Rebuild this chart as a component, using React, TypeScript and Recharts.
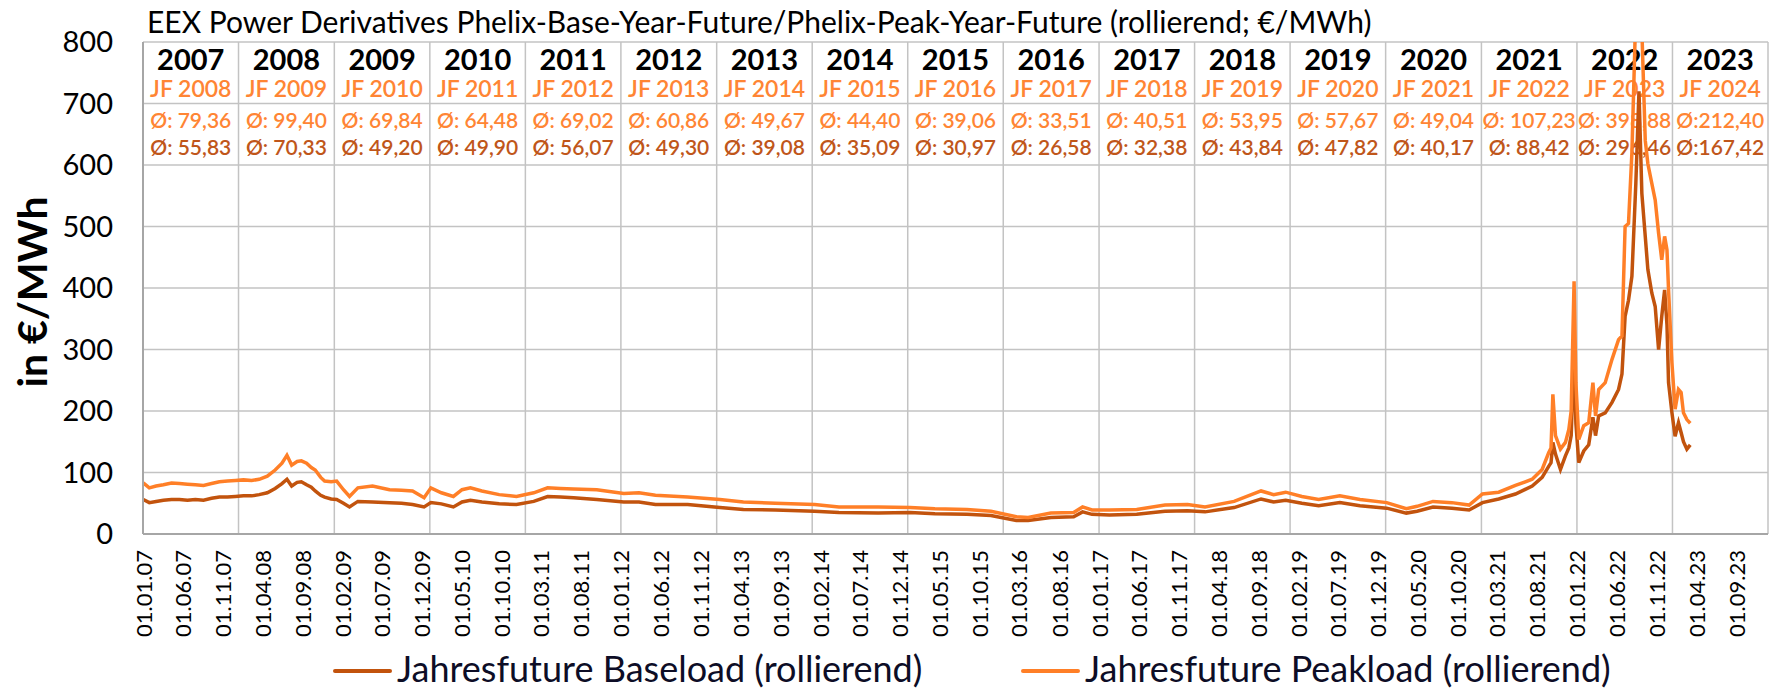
import React from 'react';
import {
  LineChart,
  Line,
  XAxis,
  YAxis,
  CartesianGrid,
  ReferenceLine,
  ReferenceArea,
} from 'recharts';

const FONT = "Lato, 'DejaVu Sans', sans-serif";
const BASE_COLOR = '#C2530D';
const PEAK_COLOR = '#FF7F27';
const GRID = '#c3c3c3';

// rolling year futures (€/MWh)
const dates = [
  '2007-01-02', '2007-01-25', '2007-02-20', '2007-03-20', '2007-04-20', '2007-05-20', '2007-06-20',
  '2007-07-20', '2007-08-20', '2007-09-20', '2007-10-20', '2007-11-20', '2007-12-20',
  '2008-01-20', '2008-02-20', '2008-03-20', '2008-04-20', '2008-05-20', '2008-06-15', '2008-07-04',
  '2008-07-22', '2008-08-12', '2008-08-28', '2008-09-17', '2008-10-05', '2008-10-20', '2008-11-10',
  '2008-11-25', '2008-12-20',
  '2009-01-10', '2009-02-05', '2009-02-28', '2009-04-01', '2009-05-27', '2009-07-31', '2009-09-15',
  '2009-10-27', '2009-12-10',
  '2010-01-05', '2010-02-14', '2010-04-01', '2010-05-04', '2010-06-05', '2010-07-19', '2010-09-23',
  '2010-11-28',
  '2011-02-02', '2011-03-27', '2011-05-15', '2011-07-04', '2011-10-01',
  '2012-01-12', '2012-03-10', '2012-05-12', '2012-09-12',
  '2013-01-13', '2013-04-13', '2013-08-13',
  '2014-01-10', '2014-04-13', '2014-09-10',
  '2015-01-10', '2015-04-15', '2015-08-15', '2015-11-15',
  '2016-02-20', '2016-04-05', '2016-07-01', '2016-09-26', '2016-10-30', '2016-12-05',
  '2017-02-10', '2017-05-25', '2017-09-10', '2017-12-05',
  '2018-02-10', '2018-06-01', '2018-09-12', '2018-10-30', '2018-12-15',
  '2019-02-15', '2019-04-20', '2019-07-10', '2019-09-25',
  '2020-01-05', '2020-03-20', '2020-04-30', '2020-06-30', '2020-09-10', '2020-11-15',
  '2021-01-05', '2021-03-08', '2021-05-11', '2021-07-14', '2021-08-21', '2021-09-15', '2021-09-24',
  '2021-10-01', '2021-10-11', '2021-10-30', '2021-11-18', '2021-12-01', '2021-12-10', '2021-12-21',
  '2021-12-28',
  '2022-01-08', '2022-01-27', '2022-02-15', '2022-03-03', '2022-03-13', '2022-03-25', '2022-04-19',
  '2022-05-15', '2022-06-09', '2022-06-22', '2022-07-04', '2022-07-17', '2022-07-30', '2022-08-14',
  '2022-08-26', '2022-09-06', '2022-09-19', '2022-09-29', '2022-10-14', '2022-10-27', '2022-11-09',
  '2022-11-21', '2022-12-02', '2022-12-11', '2022-12-17', '2022-12-30',
  '2023-01-11', '2023-01-24', '2023-02-03', '2023-02-12', '2023-02-25', '2023-03-10',
];

const baseload = [
  56, 51, 53, 55, 56, 56, 55, 56, 55, 58, 60, 60, 61,
  62, 62, 64, 67, 74, 82, 89, 78, 84, 85, 80, 76, 70, 63, 60, 57,
  56, 50, 44, 53, 52, 51, 50, 48, 44,
  51, 49, 44, 52, 55, 52, 49, 48,
  53, 61, 60, 59, 56,
  52, 52, 48, 48,
  43, 40, 39,
  37, 35, 34,
  35, 33, 32, 30,
  22, 22, 27, 28, 36, 32,
  31, 32, 37, 38,
  36, 43, 57, 52, 55,
  50, 46, 51, 46,
  42, 34, 37, 44, 42, 39,
  51, 57, 65, 78, 92, 110, 116, 149, 130, 105, 127, 140, 160, 300, 180,
  116, 135, 145, 190, 160, 192, 197, 214, 235, 260, 354, 380, 419, 570, 720, 554, 484, 430, 392,
  370, 300, 354, 397, 340, 246, 197,
  159, 181, 165, 150, 138, 145,
];

const peakload = [
  83, 75, 78, 80, 83, 82, 81, 80, 79, 82, 85, 86, 87,
  88, 87, 89, 94, 104, 115, 128, 112, 118, 119, 115, 108, 104, 92, 86, 85,
  86, 72, 61, 75, 78, 72, 71, 70, 59,
  75, 67, 61, 72, 75, 70, 64, 61,
  67, 75, 74, 73, 72,
  66, 67, 63, 60,
  56, 52, 50,
  48, 44, 44,
  43, 41, 40, 37,
  28, 27, 34, 35, 44, 39,
  39, 40, 47, 48,
  44, 53, 70, 64, 68,
  61, 56, 62, 56,
  51, 41, 45, 53, 51, 47,
  65, 68, 79, 89, 105, 132, 140, 227, 160, 138, 149, 170, 200, 411, 246,
  154, 176, 181, 246, 192, 235, 246, 284, 316, 322, 500, 505, 620, 850, 1000, 820, 640, 602, 570,
  543, 489, 446, 484, 462, 397, 278,
  203, 235, 230, 197, 186, 180,
];

const tickLabels = [
  '01.01.07', '01.06.07', '01.11.07', '01.04.08', '01.09.08', '01.02.09', '01.07.09', '01.12.09',
  '01.05.10', '01.10.10', '01.03.11', '01.08.11', '01.01.12', '01.06.12', '01.11.12', '01.04.13',
  '01.09.13', '01.02.14', '01.07.14', '01.12.14', '01.05.15', '01.10.15', '01.03.16', '01.08.16',
  '01.01.17', '01.06.17', '01.11.17', '01.04.18', '01.09.18', '01.02.19', '01.07.19', '01.12.19',
  '01.05.20', '01.10.20', '01.03.21', '01.08.21', '01.01.22', '01.06.22', '01.11.22', '01.04.23',
  '01.09.23',
];

const yTicks = [0, 100, 200, 300, 400, 500, 600, 700, 800];

const tableYears = [
  '2007', '2008', '2009', '2010', '2011', '2012', '2013', '2014', '2015',
  '2016', '2017', '2018', '2019', '2020', '2021', '2022', '2023',
];
const tableContracts = [
  'JF 2008', 'JF 2009', 'JF 2010', 'JF 2011', 'JF 2012', 'JF 2013', 'JF 2014', 'JF 2015', 'JF 2016',
  'JF 2017', 'JF 2018', 'JF 2019', 'JF 2020', 'JF 2021', 'JF 2022', 'JF 2023', 'JF 2024',
];
const avgPeak = [
  'Ø: 79,36', 'Ø: 99,40', 'Ø: 69,84', 'Ø: 64,48', 'Ø: 69,02', 'Ø: 60,86', 'Ø: 49,67', 'Ø: 44,40',
  'Ø: 39,06', 'Ø: 33,51', 'Ø: 40,51', 'Ø: 53,95', 'Ø: 57,67', 'Ø: 49,04', 'Ø: 107,23', 'Ø: 398,88',
  'Ø:212,40',
];
const avgBase = [
  'Ø: 55,83', 'Ø: 70,33', 'Ø: 49,20', 'Ø: 49,90', 'Ø: 56,07', 'Ø: 49,30', 'Ø: 39,08', 'Ø: 35,09',
  'Ø: 30,97', 'Ø: 26,58', 'Ø: 32,38', 'Ø: 43,84', 'Ø: 47,82', 'Ø: 40,17', 'Ø: 88,42', 'Ø: 296,46',
  'Ø:167,42',
];

const legendItems = [
  { name: 'Jahresfuture Baseload (rollierend)', color: BASE_COLOR },
  { name: 'Jahresfuture Peakload (rollierend)', color: PEAK_COLOR },
];

const isoTime = (s: string) => {
  const [y, m, d] = s.split('-').map(Number);
  return Date.UTC(y, m - 1, d);
};
const labelTime = (s: string) => {
  const [d, m, y] = s.split('.').map(Number);
  return Date.UTC(2000 + y, m - 1, d);
};
const yearStart = (y: number) => Date.UTC(y, 0, 1);

const data = dates.map((d, i) => ({
  t: isoTime(d),
  base: baseload[i],
  peak: peakload[i],
}));

const tickTimes = tickLabels.map(labelTime);
const labelByTime = new Map(tickTimes.map((t, i) => [t, tickLabels[i]]));
const firstYear = Number(tableYears[0]);
const lastYear = Number(tableYears[tableYears.length - 1]) + 1;

function XTick({ x, y, payload }: any) {
  return (
    <text
      x={x}
      y={y}
      transform={`rotate(-90 ${x} ${y})`}
      textAnchor="end"
      dominantBaseline="central"
      fontSize={22}
      fontFamily={FONT}
      fill="#000"
    >
      {labelByTime.get(payload.value)}
    </text>
  );
}

function TableCell(props: any) {
  const vb = props.viewBox || props;
  const { x, y, width, height } = vb;
  const col = props.col;
  const cx = x + width / 2;
  const row = height / 2;
  return (
    <g fontFamily={FONT} textAnchor="middle" dominantBaseline="central">
      <text x={cx} y={y + row * 0.27} fontSize={29} fontWeight={700} fill="#000">
        {tableYears[col]}
      </text>
      <text x={cx} y={y + row * 0.74} fontSize={23} fontWeight={600} fill="#FF8534">
        {tableContracts[col]}
      </text>
      <text x={cx} y={y + row * 1.26} fontSize={21} fontWeight={600} fill="#FF8534">
        {avgPeak[col]}
      </text>
      <text x={cx} y={y + row * 1.7} fontSize={21} fontWeight={600} fill="#C0561A">
        {avgBase[col]}
      </text>
    </g>
  );
}

export default function App() {
  return (
    <div style={{ position: 'relative', width: 1777, height: 690, background: '#fff' }}>
      <style>{'body{margin:0}'}</style>
      <div
        style={{
          position: 'absolute',
          left: 147,
          top: 6,
          fontFamily: FONT,
          fontSize: 30,
          lineHeight: 1,
          color: '#000',
          whiteSpace: 'nowrap',
        }}
      >
        EEX Power Derivatives Phelix-Base-Year-Future/Phelix-Peak-Year-Future (rollierend; €/MWh)
      </div>
      <div
        style={{
          position: 'absolute',
          left: 31,
          top: 292,
          transform: 'translate(-50%, -50%) rotate(-90deg)',
          fontFamily: FONT,
          fontSize: 41,
          fontWeight: 700,
          lineHeight: 1,
          whiteSpace: 'nowrap',
        }}
      >
        in €/MWh
      </div>

      <LineChart
        width={1777}
        height={690}
        data={data}
        margin={{ top: 42, right: 9, bottom: 0, left: 0 }}
      >
        <CartesianGrid vertical={false} stroke={GRID} strokeWidth={1.5} />
        {tableYears.map((y, i) => (
          <ReferenceArea
            key={y}
            x1={yearStart(firstYear + i)}
            x2={yearStart(firstYear + i + 1)}
            y1={600}
            y2={800}
            fill="none"
            fillOpacity={0}
            strokeOpacity={0}
            label={<TableCell col={i} />}
          />
        ))}
        {tableYears.map((_, i) => (
          <ReferenceLine
            key={`v${i}`}
            x={yearStart(firstYear + i + 1)}
            stroke={GRID}
            strokeWidth={1.5}
          />
        ))}
        <XAxis
          dataKey="t"
          type="number"
          domain={[yearStart(firstYear), yearStart(lastYear)]}
          ticks={tickTimes}
          interval={0}
          height={156}
          tick={<XTick />}
          tickLine={false}
          tickSize={14}
          tickMargin={2}
          axisLine={{ stroke: '#a6a6a6', strokeWidth: 2 }}
        />
        <YAxis
          type="number"
          domain={[0, 800]}
          ticks={yTicks}
          allowDataOverflow
          width={143}
          tickLine={false}
          tickSize={0}
          tickMargin={30}
          tick={{ fontSize: 29, fill: '#000', fontFamily: FONT }}
          axisLine={{ stroke: '#a6a6a6', strokeWidth: 2 }}
        />
        <Line
          type="linear"
          dataKey="base"
          stroke={BASE_COLOR}
          strokeWidth={3.5}
          dot={false}
          isAnimationActive={false}
        />
        <Line
          type="linear"
          dataKey="peak"
          stroke={PEAK_COLOR}
          strokeWidth={3.5}
          dot={false}
          isAnimationActive={false}
        />
      </LineChart>

      {legendItems.map((item, i) => (
        <div
          key={item.name}
          style={{
            position: 'absolute',
            left: i === 0 ? 333 : 1021,
            top: 650,
            display: 'flex',
            alignItems: 'center',
            fontFamily: FONT,
            fontSize: 36,
            lineHeight: 1,
            color: '#0d0d26',
            whiteSpace: 'nowrap',
          }}
        >
          <span
            style={{
              display: 'inline-block',
              width: 59,
              height: 4,
              background: item.color,
              marginRight: 5,
              marginTop: 6,
              borderRadius: 2,
            }}
          />
          {item.name}
        </div>
      ))}
    </div>
  );
}
